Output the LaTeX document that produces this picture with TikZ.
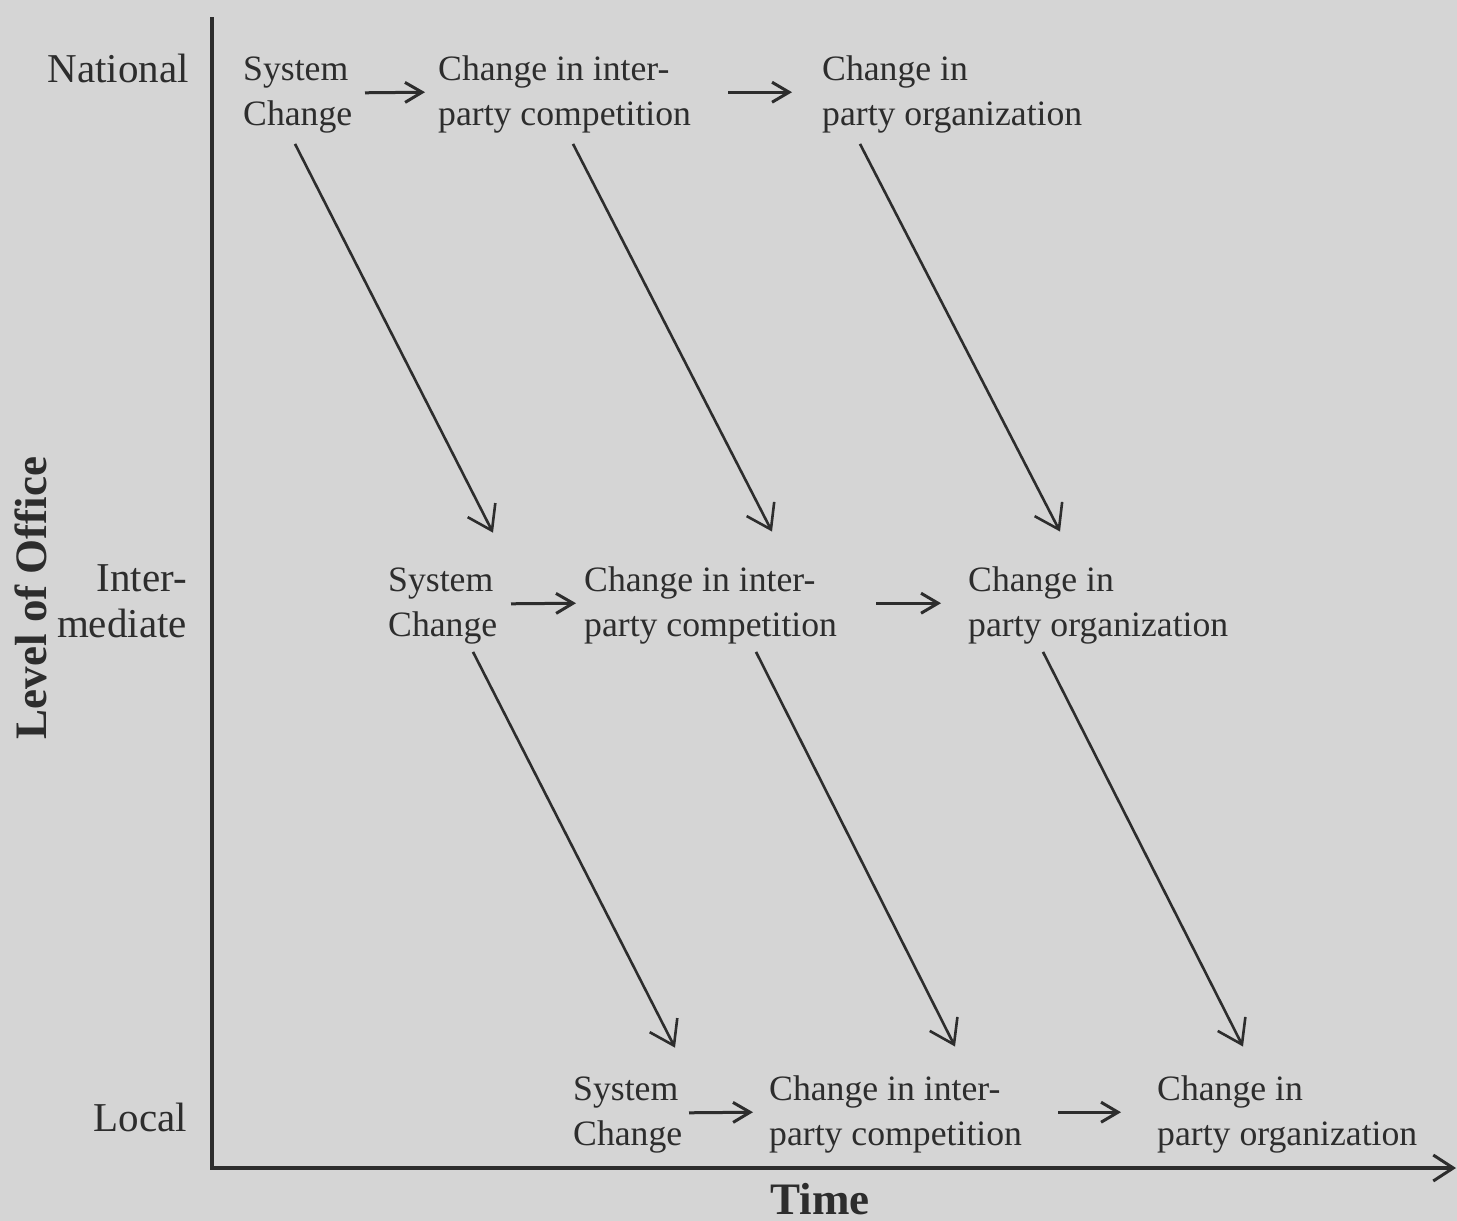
\documentclass[tikz,border=0pt]{standalone}
\usepackage{fontspec}
\setmainfont{Liberation Serif}
\usetikzlibrary{arrows.meta,calc}
\definecolor{bgc}{RGB}{213,213,213}
\definecolor{ink}{RGB}{45,45,45}
\tikzset{
  lab/.style={font=\fontsize{35.7}{44.5}\selectfont, inner sep=0pt, anchor=base west, align=left, text=ink},
  lvl/.style={font=\fontsize{41}{46}\selectfont, inner sep=0pt, anchor=base east, align=right, text=ink},
  ttl/.style={font=\fontsize{45}{50}\selectfont\bfseries, inner sep=0pt, text=ink},
  flow/.style={draw=ink, line width=3pt, -{Straight Barb[length=17pt,width=20pt,line width=3pt]}},
  drop/.style={draw=ink, line width=2.6pt, -{Straight Barb[length=23pt,width=31pt,line width=2.6pt]}},
  axis/.style={draw=ink, line width=3.5pt, -{Straight Barb[length=20pt,width=26pt,line width=3pt]}}
}
\begin{document}
\begin{tikzpicture}[x=1pt,y=-1pt]
\fill[bgc] (0,0) rectangle (1457,1221);
\useasboundingbox (0,0) rectangle (1457,1221);

% axes
\coordinate (ytop) at (212,17);
\coordinate (origin) at (212,1168);
\coordinate (xend) at (1456,1168);
\draw[axis] (ytop) -- (origin) -- (xend);

% axis titles
\node[ttl, rotate=90, anchor=base] (ylab) at (46,598) {Level of Office};
\node[ttl, anchor=base] (xlab) at (820,1214) {Time};

% level labels (base = last line)
\node[lvl] (nat) at (189,82) {National};
\node[lvl] (int) at (187,637) {Inter-\\mediate};
\node[lvl] (loc) at (187,1131) {Local};

% national row (base = second line)
\node[lab] (s1) at (243,125) {System\\Change};
\node[lab] (c1) at (438,125) {Change in inter-\\party competition};
\node[lab] (o1) at (822,125) {Change in\\party organization};
% intermediate row
\node[lab] (s2) at (388,636) {System\\Change};
\node[lab] (c2) at (584,636) {Change in inter-\\party competition};
\node[lab] (o2) at (968,636) {Change in\\party organization};
% local row
\node[lab] (s3) at (573,1145) {System\\Change};
\node[lab] (c3) at (769,1145) {Change in inter-\\party competition};
\node[lab] (o3) at (1157,1145) {Change in\\party organization};

% horizontal arrows
\draw[flow] ($(s1.west)+(122,-2)$) -- ($(c1.west)+(-13,-2)$);
\draw[flow] ($(c1.west)+(290,-2)$) -- ($(o1.west)+(-30,-2)$);
\draw[flow] ($(s2.west)+(123,-2)$) -- ($(c2.west)+(-8,-2)$);
\draw[flow] ($(c2.west)+(292,-2)$) -- ($(o2.west)+(-27,-2)$);
\draw[flow] ($(s3.west)+(116,-2)$) -- ($(c3.west)+(-16,-2)$);
\draw[flow] ($(c3.west)+(289,-2)$) -- ($(o3.west)+(-36,-2)$);

% diagonal arrows
\draw[drop] ($(s1.south west)+(52,11)$) -- ($(s2.north west)+(105,-35)$);
\draw[drop] ($(c1.south west)+(135,11)$) -- ($(c2.north west)+(188,-35)$);
\draw[drop] ($(o1.south west)+(38,11)$) -- ($(o2.north west)+(92,-35)$);
\draw[drop] ($(s2.south west)+(85,8)$) -- ($(s3.north west)+(102,-29)$);
\draw[drop] ($(c2.south west)+(172,8)$) -- ($(c3.north west)+(186,-29)$);
\draw[drop] ($(o2.south west)+(75,8)$) -- ($(o3.north west)+(86,-29)$);
\end{tikzpicture}
\end{document}
